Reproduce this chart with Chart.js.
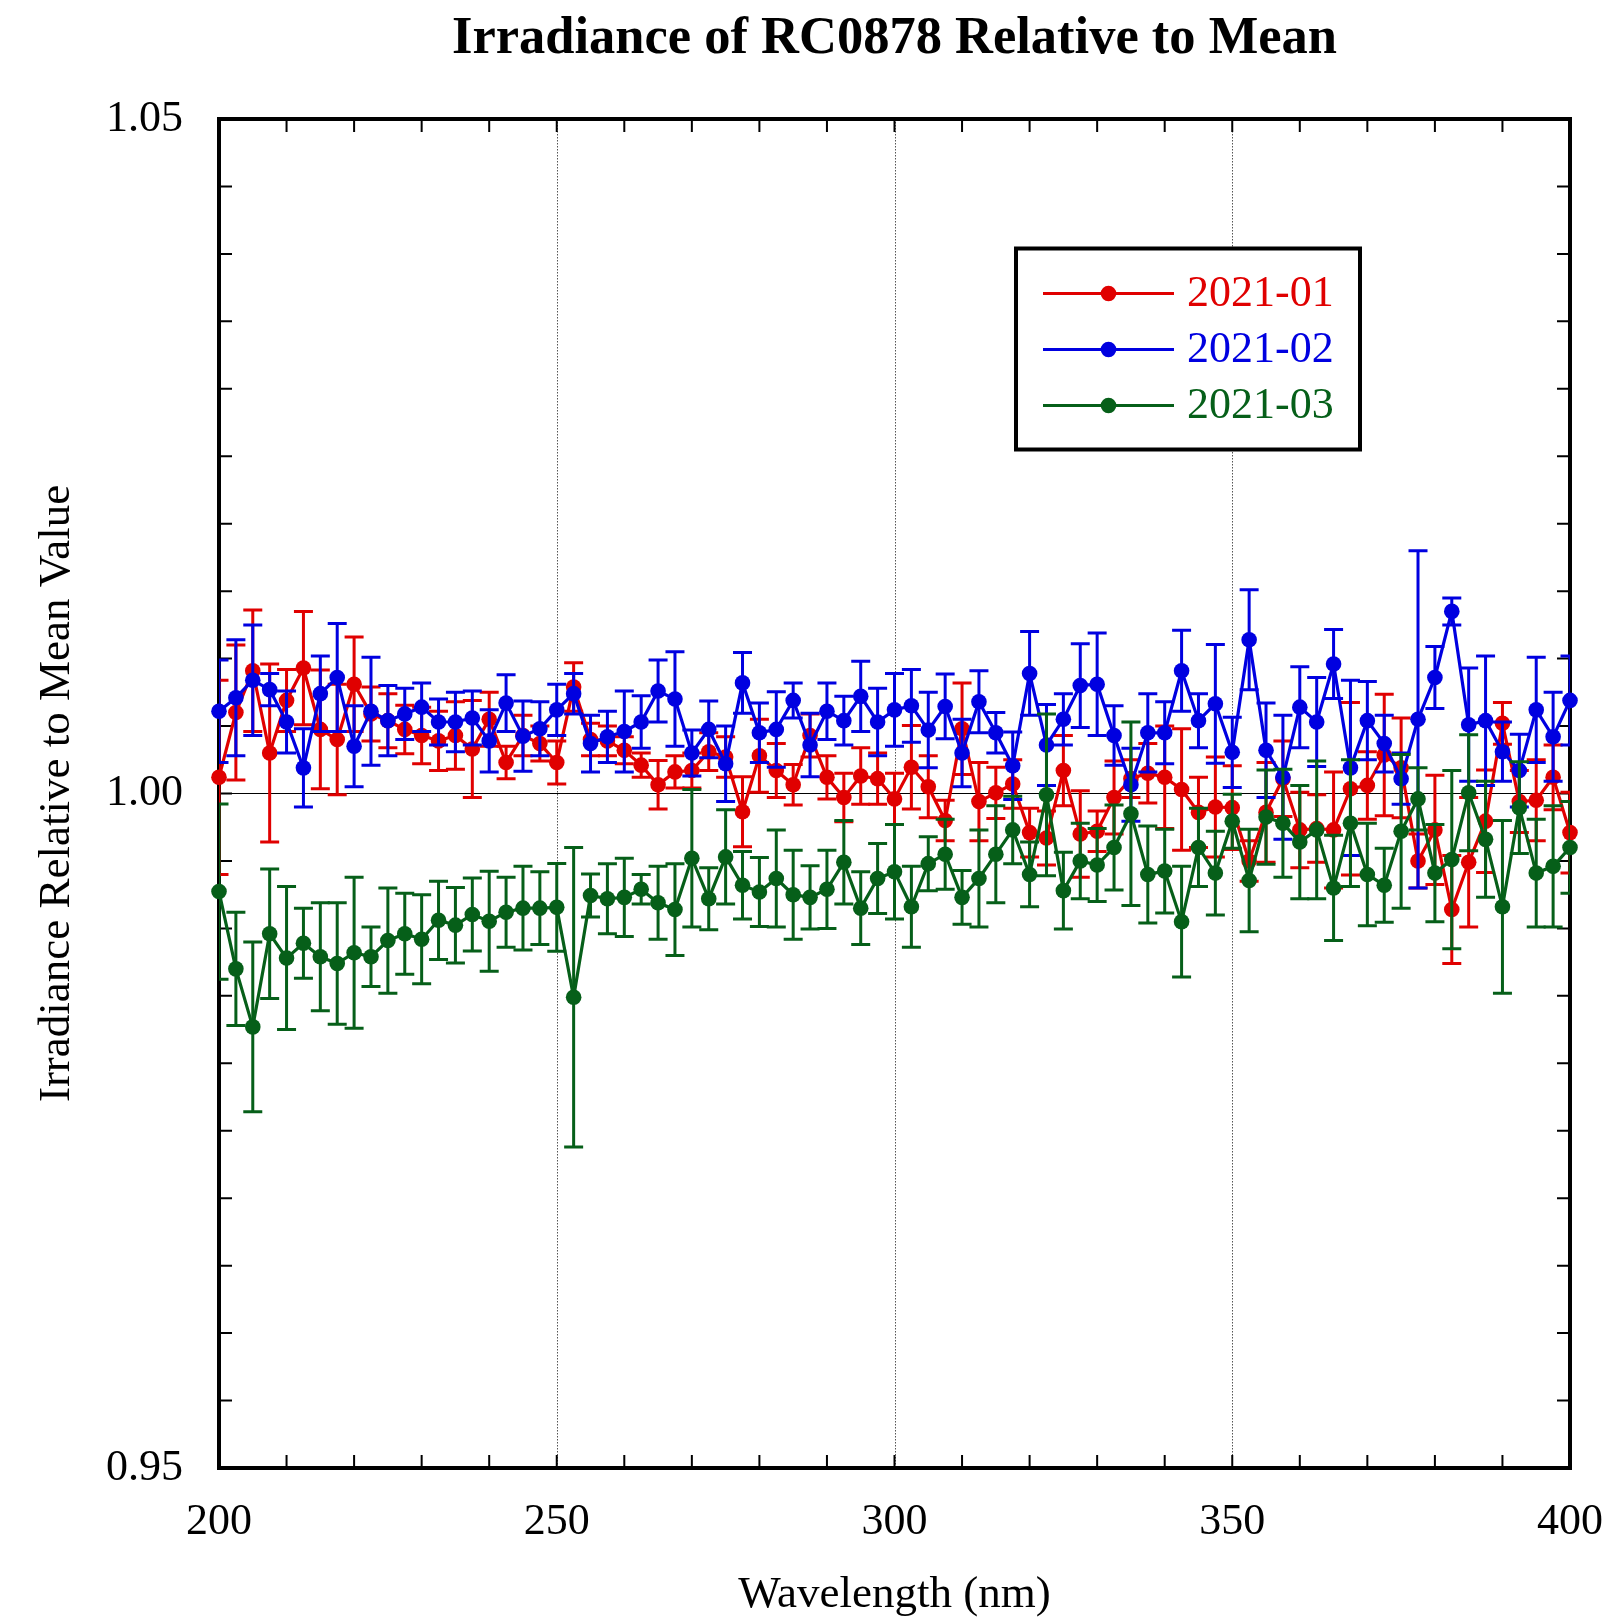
<!DOCTYPE html>
<html>
<head>
<meta charset="utf-8">
<script src="https://cdn.jsdelivr.net/npm/chart.js@4.4.1/dist/chart.umd.min.js"></script>
<style>
html,body{margin:0;padding:0;background:#ffffff;}
#wrap{width:1619px;height:1619px;}
</style>
</head>
<body>
<div id="wrap"><canvas id="c" width="1619" height="1619"></canvas></div>
<script>
// ---------- DATA ----------
const wavelengths = [200,202.5,205,207.5,210,212.5,215,217.5,220,222.5,225,227.5,230,232.5,235,237.5,240,242.5,245,247.5,250,252.5,255,257.5,260,262.5,265,267.5,270,272.5,275,277.5,280,282.5,285,287.5,290,292.5,295,297.5,300,302.5,305,307.5,310,312.5,315,317.5,320,322.5,325,327.5,330,332.5,335,337.5,340,342.5,345,347.5,350,352.5,355,357.5,360,362.5,365,367.5,370,372.5,375,377.5,380,382.5,385,387.5,390,392.5,395,397.5,400];

const seriesLabels = ['2021-01','2021-02','2021-03'];

const irr_2021_01 = [1.0012,1.0060,1.0091,1.0030,1.0069,1.0093,1.00475,1.0040,1.0081,1.0059,
 1.0054,1.00475,1.0043,1.0039,1.0043,1.0033,1.0055,1.0023,1.0043,1.0037,
 1.0023,1.0079,1.0040,1.0039,1.0032,1.0021,1.00065,1.0016,1.0017,1.0031,
 1.0027,0.99865,1.0028,1.0017,1.00065,1.0043,1.0012,0.9997,1.0013,1.0011,
 0.9996,1.00195,1.0005,0.9980,1.0048,0.9994,1.00005,1.0007,0.9971,0.9967,
 1.0017,0.9970,0.9972,0.9997,1.0011,1.0015,1.0012,1.0003,0.9986,0.9990,
 0.99895,0.9950,0.9986,1.0011,0.9973,0.9974,0.9973,1.00035,1.0006,1.00285,
 1.0019,0.9950,0.9973,0.9914,0.9949,0.99795,1.0052,0.9994,0.9995,1.0012,
 0.9971];
const err_2021_01 = [0.0072,0.0050,0.0045,0.0066,0.0023,0.0042,0.0044,0.0041,0.0035,0.0020,
 0.0020,0.0018,0.0021,0.0022,0.0025,0.0036,0.0020,0.0012,0.0015,0.0013,
 0.0016,0.0018,0.0012,0.0011,0.0010,0.0009,0.0018,0.0012,0.0013,0.0014,
 0.0015,0.0026,0.0027,0.0020,0.0015,0.0016,0.0016,0.0018,0.0021,0.0019,
 0.0019,0.0031,0.0023,0.0015,0.0034,0.0029,0.0019,0.0018,0.0018,0.0020,
 0.0026,0.0032,0.0015,0.0027,0.0014,0.0022,0.0038,0.0045,0.0026,0.0037,
 0.0031,0.0015,0.0037,0.0028,0.0028,0.0025,0.0043,0.0064,0.0025,0.0045,
 0.0037,0.0020,0.00405,0.0040,0.0048,0.0038,0.00155,0.0023,0.0030,0.0024,
 0.0030];

const irr_2021_02 = [1.0061,1.0071,1.0084,1.0077,1.0053,1.0019,1.0074,1.0086,1.0035,1.0061,
 1.0054,1.0059,1.0064,1.0053,1.0053,1.0056,1.0039,1.0067,1.00425,1.0048,
 1.0062,1.0074,1.0037,1.0042,1.0046,1.0053,1.0076,1.0070,1.0030,1.00475,
 1.0022,1.0082,1.0045,1.00475,1.0069,1.0036,1.0061,1.0054,1.0072,1.0053,
 1.0062,1.0065,1.0047,1.00645,1.0030,1.0068,1.0045,1.00205,1.0089,1.0036,
 1.0055,1.0080,1.0081,1.0043,1.00065,1.0045,1.0045,1.0091,1.0054,1.00665,
 1.00305,1.0114,1.0032,1.0012,1.0064,1.0053,1.0096,1.0019,1.0054,1.0037,
 1.0011,1.0055,1.0086,1.0135,1.0051,1.0054,1.0031,1.0017,1.0062,1.0042,
 1.0069];
const err_2021_02 = [0.0038,0.0043,0.0041,0.0012,0.0023,0.0029,0.0028,0.0040,0.0030,0.0040,
 0.0026,0.0019,0.0018,0.0017,0.0022,0.0020,0.0023,0.0021,0.0026,0.0020,
 0.0019,0.0015,0.0021,0.0019,0.0030,0.00195,0.0023,0.0035,0.0017,0.0021,
 0.0028,0.00225,0.0022,0.0028,0.0013,0.00235,0.0021,0.0018,0.0026,0.0025,
 0.0027,0.0027,0.0028,0.0024,0.0025,0.0023,0.0015,0.0025,0.0031,0.0030,
 0.0019,0.0031,0.0038,0.0022,0.0027,0.0029,0.0023,0.0030,0.0020,0.0044,
 0.0026,0.0037,0.0035,0.0046,0.0030,0.0033,0.00255,0.0065,0.0029,0.0021,
 0.0019,0.0125,0.0023,0.0010,0.0042,0.0048,0.0022,0.0027,0.0039,0.0033,
 0.0033];

const irr_2021_03 = [0.99273,0.9870,0.9827,0.9896,0.9878,0.9889,0.9879,0.9874,0.9882,0.9879,
 0.9891,0.9896,0.9892,0.9906,0.99024,0.99103,0.99053,0.9912,0.9915,0.9915,
 0.99156,0.9849,0.99244,0.9922,0.9923,0.9929,0.9919,0.9914,0.9952,0.9922,
 0.9953,0.9932,0.9927,0.9937,0.9925,0.9923,0.9929,0.9949,0.9915,0.9937,
 0.9942,0.9916,0.9948,0.9955,0.9923,0.9937,0.9955,0.9973,0.9940,0.9999,
 0.9928,0.9950,0.9947,0.9960,0.9985,0.9940,0.99425,0.9905,0.9960,0.9941,
 0.99795,0.99355,0.99825,0.9978,0.9964,0.9973,0.9930,0.9978,0.9940,0.9932,
 0.9972,0.9996,0.9941,0.9951,1.00005,0.9966,0.9916,0.99895,0.9941,0.9946,
 0.9960];
const err_2021_03 = [0.0065,0.0042,0.0063,0.0048,0.0053,0.0026,0.0040,0.0045,0.0056,0.0022,
 0.0039,0.0030,0.0033,0.0029,0.0028,0.0027,0.0037,0.0026,0.0031,0.0027,
 0.00325,0.0111,0.0016,0.0026,0.0029,0.0011,0.0027,0.0034,0.0051,0.0023,
 0.0035,0.0025,0.00255,0.0036,0.0033,0.00235,0.0029,0.0031,0.0027,0.0026,
 0.0035,0.0030,0.0020,0.0026,0.0020,0.0036,0.0036,0.0025,0.0024,0.0060,
 0.00285,0.0028,0.0027,0.00315,0.0068,0.0036,0.0031,0.0041,0.0029,0.0031,
 0.0020,0.0038,0.0035,0.0040,0.0042,0.0051,0.0039,0.0047,0.0038,0.00275,
 0.0057,0.0023,0.0036,0.0066,0.0043,0.0043,0.0064,0.0034,0.0040,0.0045,
 0.0034];

const xTickValues = [200,250,300,350,400];
const yTickValues = [0.95,1.00,1.05];
const xMinorTicks = [210,220,230,240,250,260,270,280,290,300,310,320,330,340,350,360,370,380,390];
const yMinorTicks = [0.955,0.96,0.965,0.97,0.975,0.98,0.985,0.99,0.995,1.0,1.005,1.01,1.015,1.02,1.025,1.03,1.035,1.04,1.045];
const xGridLines = [250,300,350];
const yRefLine = 1.0;

// ---------- STYLE ----------
const FONT = "'Liberation Serif', 'Times New Roman', serif";
const colors = ['#e00000', '#0000e0', '#065f19'];

function toPoints(vals){ return vals.map((v,i)=>({x: wavelengths[i], y: v})); }

const errorBarPlugin = {
  id: 'errorBars',
  beforeDatasetDraw(chart, args){
    const ds = chart.data.datasets[args.index];
    if (!ds.errors) return;
    const ctx = chart.ctx, ca = chart.chartArea, ys = chart.scales.y, xs = chart.scales.x;
    ctx.save();
    ctx.beginPath();
    ctx.rect(ca.left, ca.top, ca.right - ca.left, ca.bottom - ca.top);
    ctx.clip();
    ctx.strokeStyle = ds.borderColor;
    ctx.lineWidth = 3;
    ds.data.forEach((p, i) => {
      const e = ds.errors[i];
      const px = xs.getPixelForValue(p.x);
      const yt = ys.getPixelForValue(p.y + e);
      const yb = ys.getPixelForValue(p.y - e);
      ctx.beginPath();
      ctx.moveTo(px, yt); ctx.lineTo(px, yb);
      ctx.moveTo(px - 9.5, yt); ctx.lineTo(px + 9.5, yt);
      ctx.moveTo(px - 9.5, yb); ctx.lineTo(px + 9.5, yb);
      ctx.stroke();
    });
    ctx.restore();
  }
};

const framePlugin = {
  id: 'frame',
  beforeDatasetsDraw(chart){
    const ctx = chart.ctx, ca = chart.chartArea, xs = chart.scales.x, ys = chart.scales.y;
    ctx.save();
    ctx.strokeStyle = '#555';
    ctx.lineWidth = 1;
    ctx.setLineDash([1.5, 1.5]);
    xGridLines.forEach(v => {
      const px = Math.round(xs.getPixelForValue(v)) + 0.5;
      ctx.beginPath(); ctx.moveTo(px, ca.top); ctx.lineTo(px, ca.bottom); ctx.stroke();
    });
    ctx.setLineDash([]);
    ctx.strokeStyle = '#000';
    ctx.lineWidth = 1.2;
    const py = ys.getPixelForValue(yRefLine);
    ctx.beginPath(); ctx.moveTo(ca.left, py); ctx.lineTo(ca.right, py); ctx.stroke();
    const TL = 13;
    ctx.lineWidth = 2;
    xMinorTicks.forEach(v => {
      const px = xs.getPixelForValue(v);
      ctx.beginPath();
      ctx.moveTo(px, ca.bottom); ctx.lineTo(px, ca.bottom - TL);
      ctx.moveTo(px, ca.top); ctx.lineTo(px, ca.top + TL);
      ctx.stroke();
    });
    yMinorTicks.forEach(v => {
      const p = ys.getPixelForValue(v);
      ctx.beginPath();
      ctx.moveTo(ca.left, p); ctx.lineTo(ca.left + TL, p);
      ctx.moveTo(ca.right, p); ctx.lineTo(ca.right - TL, p);
      ctx.stroke();
    });
    ctx.lineWidth = 4;
    ctx.strokeRect(ca.left, ca.top, ca.right - ca.left, ca.bottom - ca.top);
    ctx.restore();
  }
};

const legendPlugin = {
  id: 'boxLegend',
  afterDatasetsDraw(chart){
    const ctx = chart.ctx;
    const bx = 1016, by = 248.5, bw = 344, bh = 201;
    ctx.save();
    ctx.fillStyle = '#fff';
    ctx.fillRect(bx, by, bw, bh);
    ctx.lineWidth = 4;
    ctx.strokeStyle = '#000';
    ctx.strokeRect(bx, by, bw, bh);
    const rows = [293.5, 349.5, 405.5];
    chart.data.datasets.forEach((ds, i) => {
      const y = rows[i];
      ctx.strokeStyle = ds.borderColor;
      ctx.lineWidth = 3;
      ctx.beginPath(); ctx.moveTo(1043, y); ctx.lineTo(1174, y); ctx.stroke();
      ctx.fillStyle = ds.borderColor;
      ctx.beginPath(); ctx.arc(1108.5, y, 7.8, 0, Math.PI * 2); ctx.fill();
      ctx.font = '44px ' + FONT;
      ctx.textAlign = 'left';
      ctx.textBaseline = 'middle';
      ctx.fillText(ds.label, 1187, y + 1);
    });
    ctx.restore();
  }
};

const seriesVals = [irr_2021_01, irr_2021_02, irr_2021_03];
const seriesErrs = [err_2021_01, err_2021_02, err_2021_03];
const drawOrder = [3, 2, 1];

const datasets = seriesLabels.map((lab, i) => ({
  label: lab,
  data: toPoints(seriesVals[i]),
  errors: seriesErrs[i],
  borderColor: colors[i],
  backgroundColor: colors[i],
  pointBackgroundColor: colors[i],
  pointBorderColor: colors[i],
  pointBorderWidth: 0,
  pointRadius: 7.8,
  borderWidth: 3.2,
  tension: 0,
  fill: false,
  clip: false,
  order: drawOrder[i]
}));

new Chart(document.getElementById('c'), {
  type: 'line',
  data: { datasets },
  options: {
    responsive: false,
    devicePixelRatio: 1,
    animation: false,
    events: [],
    layout: { padding: { left: 0, right: 49, top: 0, bottom: 0 } },
    plugins: {
      legend: { display: false },
      tooltip: { enabled: false },
      title: {
        display: true,
        text: 'Irradiance of RC0878 Relative to Mean',
        fullSize: false,
        color: '#000',
        font: { family: FONT, size: 52.5, weight: 'bold', lineHeight: 1.2 },
        padding: { top: 8, bottom: 48 }
      }
    },
    scales: {
      x: {
        type: 'linear',
        min: 200, max: 400,
        afterBuildTicks: s => { s.ticks = xTickValues.map(v => ({ value: v })); },
        afterFit: s => { s.height = 151; s.paddingLeft = 0; s.paddingRight = 0; },
        grid: { display: false, drawTicks: false },
        border: { display: false },
        ticks: {
          color: '#000', padding: 28, maxRotation: 0, autoSkip: false,
          font: { family: FONT, size: 44 },
          callback: v => String(v)
        },
        title: {
          display: true, text: 'Wavelength (nm)', color: '#000',
          font: { family: FONT, size: 45 }, padding: { top: 0, bottom: -3 }
        }
      },
      y: {
        type: 'linear',
        min: 0.95, max: 1.05,
        afterBuildTicks: s => { s.ticks = yTickValues.map(v => ({ value: v })); },
        afterFit: s => { s.width = 219; s.paddingTop = 0; s.paddingBottom = 0; },
        grid: { display: false, drawTicks: false },
        border: { display: false },
        ticks: {
          color: '#000', padding: 36,
          font: { family: FONT, size: 44 },
          callback: v => Number(v).toFixed(2)
        },
        title: {
          display: true, text: 'Irradiance Relative to Mean Value', color: '#000',
          font: { family: FONT, size: 45 }, padding: { top: 30, bottom: 0 }
        }
      }
    }
  },
  plugins: [framePlugin, errorBarPlugin, legendPlugin]
});
</script>
</body>
</html>
